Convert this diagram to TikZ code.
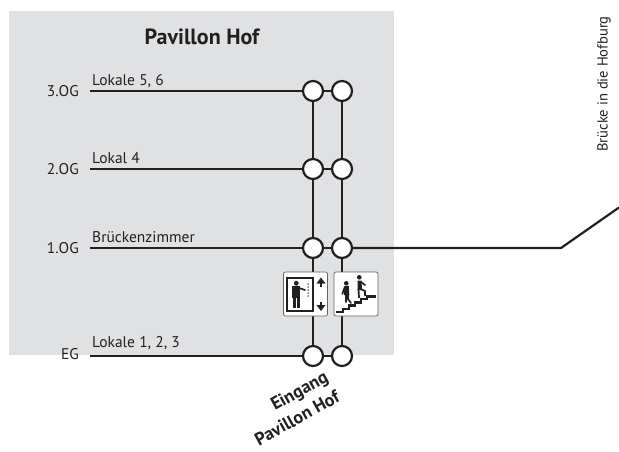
\documentclass[tikz,border=0pt]{standalone}
\usepackage{fontspec}
\setmainfont{PT Sans}
\usetikzlibrary{positioning}
\definecolor{hofgrey}{RGB}{224,225,227}
\definecolor{hofline}{RGB}{35,31,32}
\tikzstyle{level}=[line width=2.2pt, draw=hofline]
\tikzstyle{knot}=[circle, draw=hofline, fill=white, line width=2.2pt, minimum size=20pt, inner sep=0pt]
\tikzstyle{floorlabel}=[anchor=east, inner sep=0pt, font=\fontsize{15.5}{17}\selectfont, text=hofline]
\tikzstyle{roomlabel}=[anchor=base west, inner sep=0pt, font=\fontsize{15.5}{17}\selectfont, text=hofline]
\tikzstyle{entrylabel}=[inner sep=0pt, rotate=29, font=\bfseries\fontsize{18}{24}\selectfont, text=hofline]
\tikzstyle{iconbox}=[rectangle, rounded corners=2pt, draw=hofline!70, fill=white, line width=0.7pt, minimum width=44pt, minimum height=44pt, inner sep=0pt]
\tikzstyle{figure}=[fill=hofline, draw=none]
\tikzstyle{limb}=[draw=hofline, line width=1.7pt, line cap=round, line join=round]
\begin{document}
\begin{tikzpicture}[x=1pt, y=-1pt]
\useasboundingbox (0,0) rectangle (619,451);
\fill[hofgrey] (9,11) rectangle (394,355);

\node[anchor=center, inner sep=0pt, font=\bfseries\fontsize{22}{25}\selectfont, text=hofline] (title) at (202,37) {Pavillon Hof};

\coordinate (s3) at (90,91);
\coordinate (s2) at (90,169);
\coordinate (s1) at (90,248);
\coordinate (s0) at (90,356);
\coordinate (bend) at (561,248);
\coordinate (exit) at (619,207.5);

\node[knot] (a3) at (313,91) {};
\node[knot] (b3) at (342,91) {};
\node[knot] (a2) at (313,169) {};
\node[knot] (b2) at (342,169) {};
\node[knot] (a1) at (313,248) {};
\node[knot] (b1) at (342,248) {};
\node[knot] (a0) at (313,356) {};
\node[knot] (b0) at (342,356) {};

\draw[level] (a3) -- (a2);
\draw[level] (a2) -- (a1);
\draw[level] (a1) -- (a0);
\draw[level] (b3) -- (b2);
\draw[level] (b2) -- (b1);
\draw[level] (b1) -- (b0);

\draw[level] (s3) -- (a3);
\draw[level] (a3) -- (b3);
\draw[level] (s2) -- (a2);
\draw[level] (a2) -- (b2);
\draw[level] (s1) -- (a1);
\draw[level] (a1) -- (b1);
\draw[level] (b1) -- (bend) -- (exit);
\draw[level] (s0) -- (a0);
\draw[level] (a0) -- (b0);

\node[floorlabel] (f3) at (79,91.5) {3.OG};
\node[floorlabel] (f2) at (79,169.5) {2.OG};
\node[floorlabel] (f1) at (79,248.5) {1.OG};
\node[floorlabel] (f0) at (79,354) {EG};

\node[roomlabel] (r3) at (92,85.5) {Lokale 5, 6};
\node[roomlabel] (r2) at (92,163.5) {Lokal 4};
\node[roomlabel] (r1) at (92,242.5) {Brückenzimmer};
\node[roomlabel] (r0) at (92,347.5) {Lokale 1, 2, 3};

\node[iconbox] (lift) at (305.5,294) {};
\node[iconbox] (stairs) at (356,294) {};

% lift pictogram
\draw[hofline, line width=1.6pt] (287,278) rectangle (312.7,310.7);
\fill[figure] (296.3,283.3) circle (2.4pt);
\fill[figure] (292,286.3) rectangle (300.3,298.3);
\fill[figure] (292.8,298) rectangle (295.8,308.4);
\fill[figure] (296.6,298) rectangle (299.6,308.4);
\draw[limb] (299,288) -- (305,290);
\foreach \ypos in {284,287,290,293,296}
  \fill[figure] (308.2,\ypos) circle (0.75pt);
\draw[hofline, line width=2pt] (321,287) -- (321,280);
\fill[figure] (316.5,283.5) -- (321,277.5) -- (325.5,283.5) -- cycle;
\draw[hofline, line width=2pt] (321,301.5) -- (321,308);
\fill[figure] (316.5,305) -- (321,311) -- (325.5,305) -- cycle;

% stairs pictogram
\draw[hofline, line width=2.4pt] (336,312) -- (343,312) -- (343,308.8) -- (349,308.8) -- (349,305.6) -- (355,305.6) -- (355,302.4) -- (361,302.4) -- (361,299.2) -- (367,299.2) -- (367,296.5) -- (376,296.5);
\fill[figure] (346.3,283.3) circle (2.3pt);
\fill[figure] (344.5,286) -- (348.8,286) -- (349.3,295) -- (344,295) -- cycle;
\draw[limb] (344.8,287) -- (342.3,294);
\draw[limb] (346,294) -- (346,302);
\draw[limb] (348,294) -- (348,299) -- (351,303);
\fill[figure] (359.3,277.3) circle (2.3pt);
\fill[figure] (357.5,280.5) -- (361.5,280.5) -- (362,290) -- (357.5,290) -- cycle;
\draw[limb] (361,282) -- (365,285);
\draw[limb] (358.5,289) -- (359,297.5);
\draw[limb] (360.5,289) -- (365,291) -- (365,295.5);

\node[entrylabel] (entry1) at (300,392) {Eingang};
\node[entrylabel] (entry2) at (297,418) {Pavillon Hof};
\node[inner sep=0pt, rotate=90, font=\fontsize{14.6}{16}\selectfont, text=hofline] (bridge) at (604,84) {Brücke in die Hofburg};
\end{tikzpicture}
\end{document}
